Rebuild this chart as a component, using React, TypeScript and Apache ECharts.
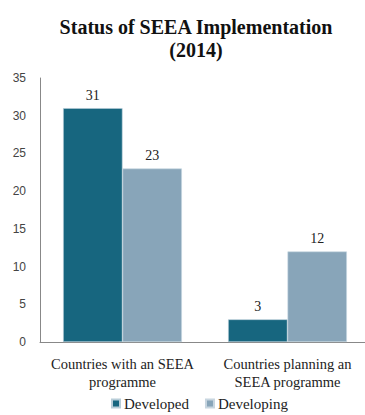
import React, { useEffect, useRef } from "react";
import * as echarts from "echarts";

const categories = ["Countries with an SEEA\nprogramme", "Countries planning an\nSEEA programme"];
const developed = [31, 3];
const developing = [23, 12];
const seriesNames = ["Developed", "Developing"];

export default function App() {
  const ref = useRef<HTMLDivElement>(null);
  useEffect(() => {
    const chart = echarts.init(ref.current!, null, { renderer: "svg" });
    const serif = "'Liberation Serif', serif";
    chart.setOption({
      animation: false,
      backgroundColor: "#ffffff",
      title: {
        text: "Status of SEEA Implementation\n(2014)",
        left: 191,
        top: 10,
        textAlign: "center",
        textStyle: { fontFamily: serif, fontWeight: "bold", fontSize: 20, lineHeight: 23, color: "#111" },
      },
      legend: {
        data: seriesNames,
        top: 396,
        left: 106,
        padding: [0, 5],
        itemWidth: 8,
        itemHeight: 8,
        itemGap: 16,
        icon: "rect",
        textStyle: { fontFamily: serif, fontSize: 15, color: "#222", padding: [0, 0, 0, -1], lineHeight: 15 },
      },
      grid: { left: 40, right: 4, top: 78, bottom: 73 },
      xAxis: {
        type: "category",
        data: categories,
        axisLine: { lineStyle: { color: "#888", width: 1 } },
        axisTick: { show: false },
        axisLabel: { fontFamily: serif, fontSize: 14.5, color: "#222", lineHeight: 18, margin: 13, interval: 0 },
      },
      yAxis: {
        type: "value",
        min: 0,
        max: 35,
        interval: 5,
        splitLine: { show: false },
        axisLine: { show: true, lineStyle: { color: "#888", width: 1 } },
        axisTick: { show: false },
        axisLabel: { fontFamily: "'Liberation Sans', sans-serif", fontSize: 12, color: "#444", margin: 14 },
      },
      series: [
        {
          name: seriesNames[0],
          type: "bar",
          data: developed,
          barGap: "0%",
          barCategoryGap: "28%",
          itemStyle: { color: "#17667f", borderColor: "#b8cdd8", borderWidth: 0.6 },
          label: { show: true, position: "top", distance: 6, fontFamily: serif, fontSize: 14, color: "#222" },
        },
        {
          name: seriesNames[1],
          type: "bar",
          data: developing,
          itemStyle: { color: "#88a5b9", borderColor: "#c8d6e0", borderWidth: 0.6 },
          label: { show: true, position: "top", distance: 6, fontFamily: serif, fontSize: 14, color: "#222" },
        },
      ],
    });
    return () => chart.dispose();
  }, []);
  return <div ref={ref} style={{ position: "fixed", left: 0, top: 0, width: 374, height: 415 }} />;
}
